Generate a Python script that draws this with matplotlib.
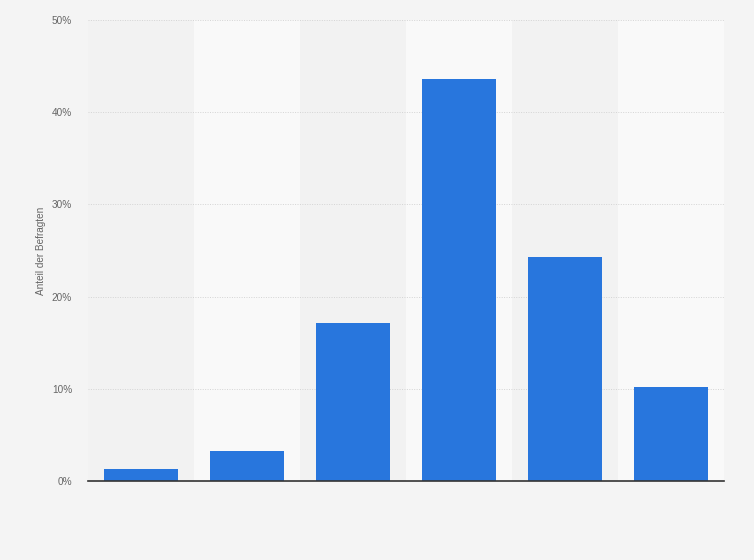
import numpy as np
import matplotlib.pyplot as plt
from matplotlib.ticker import FuncFormatter

plt.rcParams['font.family'] = ['Liberation Sans', 'DejaVu Sans']

categories = ["1", "2", "3", "4", "5", "6"]
values = [1.3, 3.3, 17.1, 43.6, 24.3, 10.2]
yticks = [0, 10, 20, 30, 40, 50]

fig = plt.figure(figsize=(7.54, 5.6), dpi=100, facecolor='#f4f4f4')
ax = fig.add_axes([0.1167, 0.1411, 0.8435, 0.8232])
ax.set_facecolor('#f4f4f4')

x = np.arange(len(categories))
# alternating column bands
for i in x:
    col = '#f9f9f9' if i % 2 == 1 else '#f2f2f2'
    ax.axvspan(i - 0.5, i + 0.5, color=col, zorder=0, lw=0)

ax.bar(x, values, width=0.69, color='#2876dd', zorder=3)

ax.set_xlim(-0.5, len(categories) - 0.5)
ax.set_ylim(0, 50)
ax.set_yticks(yticks)
ax.yaxis.set_major_formatter(FuncFormatter(lambda v, p: f'{v:.0f}%'))
ax.set_xticks([])
ax.grid(axis='y', color='#d4d4d4', linestyle=(0, (1, 1.5)), linewidth=0.7, zorder=1)

for s in ['top', 'right', 'left']:
    ax.spines[s].set_visible(False)
ax.spines['bottom'].set_color('#333333')
ax.spines['bottom'].set_linewidth(1.2)
ax.spines['bottom'].set_zorder(4)

ax.tick_params(axis='y', length=0, pad=11.5, labelsize=7.2, labelcolor='#666666')
ax.set_ylabel('Anteil der Befragten', fontsize=7.2, color='#666666', labelpad=4.5)

fig.savefig('out.png', dpi=100, facecolor=fig.get_facecolor())
